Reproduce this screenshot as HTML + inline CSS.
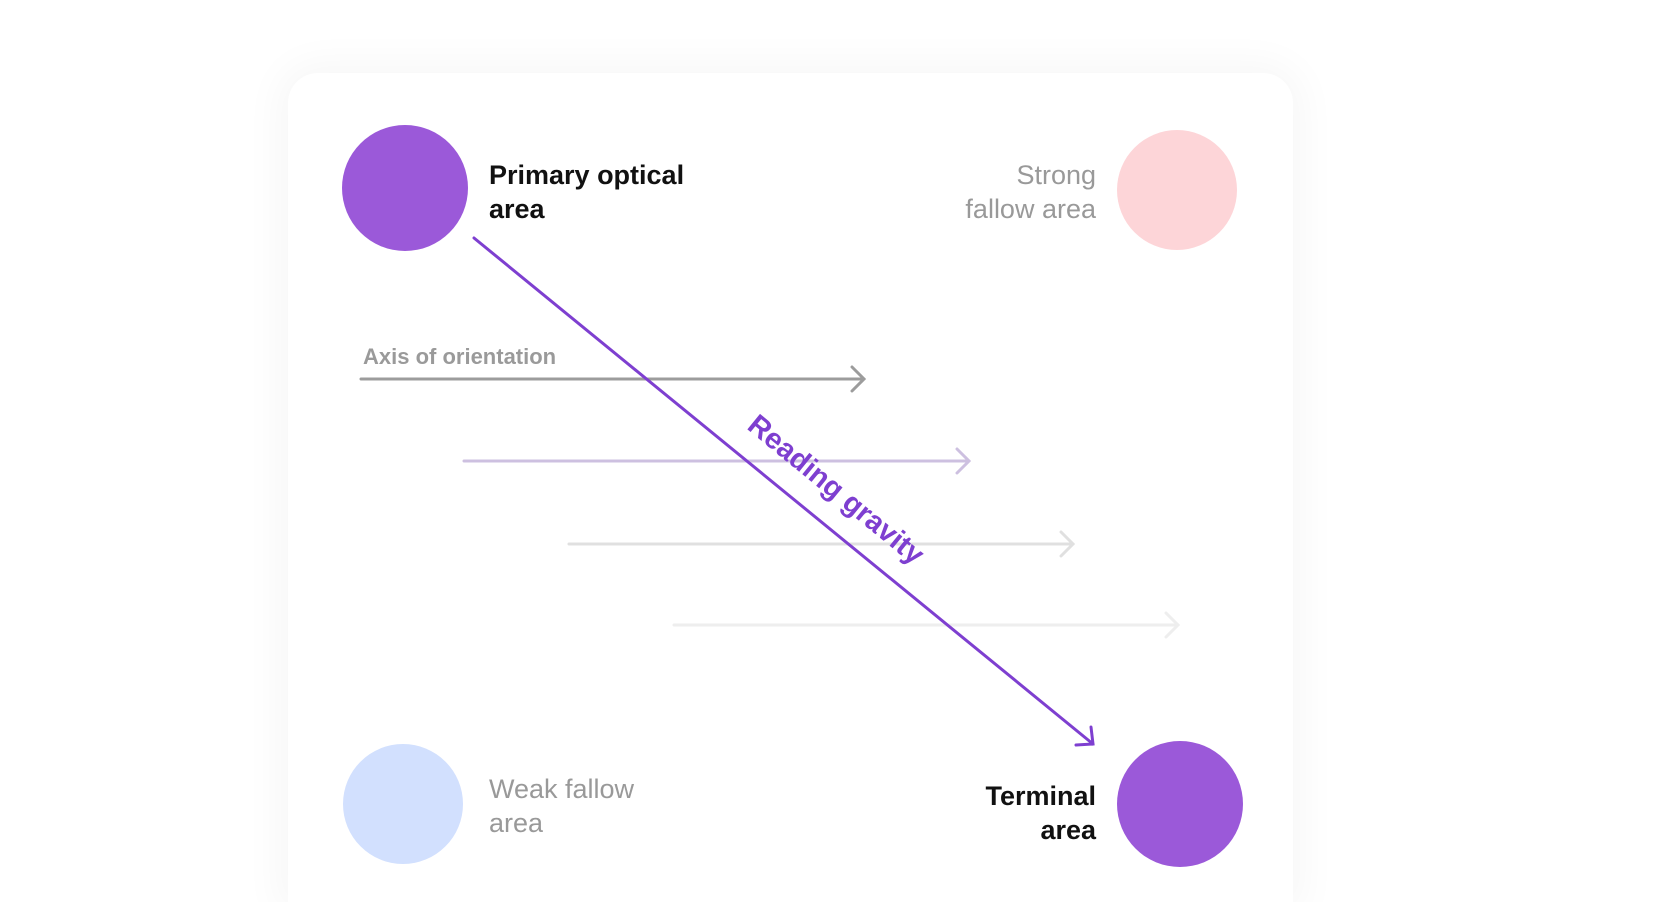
<!DOCTYPE html>
<html style="overflow:hidden;height:902px"><head><style>
body{margin:0;width:1672px;height:902px;background:#fff;overflow:hidden;position:relative;font-family:"Liberation Sans",sans-serif}
.card{position:absolute;left:288px;top:73px;width:1005px;height:829px;background:#fff;border-radius:30px 30px 0 0;box-shadow:0 0 40px 10px rgba(0,0,0,0.035)}
</style></head><body>
<div class="card"></div>
<svg width="1672" height="902" style="position:absolute;left:0;top:0" font-family="Liberation Sans, sans-serif">
<circle cx="405" cy="188" r="63" fill="#9b59d9"/>
<circle cx="1177" cy="190" r="60" fill="#fdd5d8"/>
<circle cx="403" cy="804" r="60" fill="#d2e0fe"/>
<circle cx="1180" cy="804" r="63" fill="#9b59d9"/>
<g font-size="27" font-weight="bold" fill="#111">
<text x="489" y="184">Primary optical</text><text x="489" y="218">area</text>
<text x="1096" y="805" text-anchor="end">Terminal</text><text x="1096" y="839" text-anchor="end">area</text>
</g>
<g font-size="27" fill="#999">
<text x="1096" y="184" text-anchor="end">Strong</text><text x="1096" y="218" text-anchor="end">fallow area</text>
<text x="489" y="798">Weak fallow</text><text x="489" y="832">area</text>
</g>
<text x="363" y="364" font-size="22" font-weight="bold" fill="#9a9a9a">Axis of orientation</text>
<g fill="none" stroke-width="3" stroke-linecap="round">
<path d="M361 379H864M852 367L864 379L852 391" stroke="#9c9c9c"/>
<path d="M464 461H969M957 449L969 461L957 473" stroke="#cdc0e0"/>
<path d="M569 544H1073M1061 532L1073 544L1061 556" stroke="#e0e0e0"/>
<path d="M674 625H1178M1166 613L1178 625L1166 637" stroke="#eeeeee"/>
<path d="M474 238L1093 744M1076 745L1093 744L1091 727" stroke="#7e3fd0"/>
</g>
<text x="0" y="0" font-size="29" font-weight="bold" fill="#7e3fd0" text-anchor="middle" transform="translate(830,497) rotate(39.3)">Reading gravity</text>
</svg>
</body></html>
